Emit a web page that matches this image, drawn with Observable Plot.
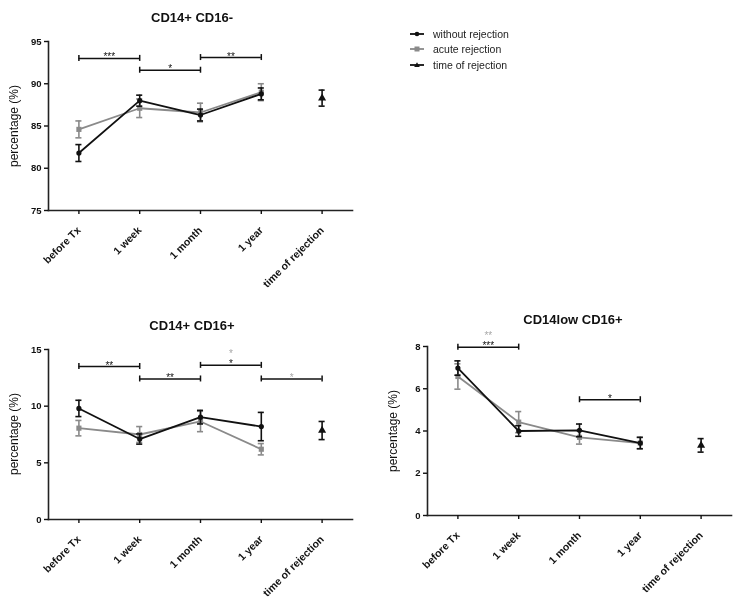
<!DOCTYPE html>
<html><head><meta charset="utf-8">
<script src="https://cdn.jsdelivr.net/npm/d3@7"></script>
<script src="https://cdn.jsdelivr.net/npm/@observablehq/plot@0.6"></script>
<style>
body{margin:0;background:#fff;font-family:"Liberation Sans",Arial,sans-serif;}
#root{position:relative;width:740px;height:598px;overflow:hidden;background:#fff;filter:grayscale(1);}
.title{position:absolute;font-weight:bold;font-size:13px;transform:translate(-50%,-50%);white-space:nowrap;color:#111;}
.ylab{position:absolute;font-size:12px;transform:translate(-50%,-50%) rotate(-90deg);white-space:nowrap;color:#111;}
.legend{position:absolute;left:410px;top:26px;font-size:10.5px;color:#222;}
.legend div{height:15.5px;display:flex;align-items:center;}
.legend svg{margin-right:9px;}
</style></head><body><div id="root"></div>
<script>
// ---- data ----
const categories = ["before Tx", "1 week", "1 month", "1 year", "time of rejection"];
const seriesNames = ["without rejection", "acute rejection", "time of rejection"];

// CD14+ CD16-
const p1Without = [81.8, 88.0, 86.3, 88.8];
const p1WithoutErr = [1.0, 0.65, 0.7, 0.7];
const p1Acute = [84.6, 87.1, 86.6, 89.0];
const p1AcuteErr = [1.0, 1.1, 1.1, 1.0];
const p1Rejection = [88.3];
const p1RejectionErr = [0.95];
const p1Brackets = [[0, 1, 93.0], [1, 2, 91.6], [2, 3, 93.1]];
const p1Stars = [[0, 1, 93.0, "***", 0, "black"], [1, 2, 91.6, "*", 0, "black"], [2, 3, 93.1, "**", 0, "black"]];

// CD14+ CD16+
const p2Without = [9.8, 7.1, 9.03, 8.2];
const p2WithoutErr = [0.72, 0.45, 0.6, 1.25];
const p2Acute = [8.06, 7.5, 8.65, 6.2];
const p2AcuteErr = [0.68, 0.7, 0.9, 0.5];
const p2Rejection = [7.85];
const p2RejectionErr = [0.8];
const p2Brackets = [[0, 1, 13.5], [1, 2, 12.4], [2, 3, 13.6], [3, 4, 12.4]];
const p2Stars = [[0, 1, 13.5, "**", 0, "black"], [1, 2, 12.4, "**", 0, "black"], [2, 3, 13.6, "*", 0, "black"], [2, 3, 13.6, "*", 1, "gray"], [3, 4, 12.4, "*", 0, "gray"]];

// CD14low CD16+
const p3Without = [6.98, 4.0, 4.03, 3.43];
const p3WithoutErr = [0.34, 0.25, 0.3, 0.27];
const p3Acute = [6.58, 4.42, 3.7, 3.43];
const p3AcuteErr = [0.6, 0.5, 0.32, 0.27];
const p3Rejection = [3.32];
const p3RejectionErr = [0.32];
const p3Brackets = [[0, 1, 7.97], [2, 3, 5.48]];
const p3Stars = [[0, 1, 7.97, "***", 0, "black"], [0, 1, 7.97, "**", 1, "gray"], [2, 3, 5.48, "*", 0, "black"]];

const BLACK = "#111";
const GRAY = "#8a8a8a";
const STARGRAY = "#a8a8a8";
const CAP = 0.05;
const FONT = '"Liberation Sans", Arial, sans-serif';

function toRows(vals, errs, offset = 0) {
  return vals.map((v, k) => ({i: k + offset, v, lo: v - errs[k], hi: v + errs[k]}));
}

function seriesMarks(rows, color, symbol, r, withLine) {
  const m = [];
  if (withLine) m.push(Plot.line(rows, {x: "i", y: "v", stroke: color, strokeWidth: 1.8}));
  m.push(Plot.ruleX(rows, {x: "i", y1: "lo", y2: "hi", stroke: color, strokeWidth: 1.6}));
  m.push(Plot.ruleY(rows, {y: "lo", x1: d => d.i - CAP, x2: d => d.i + CAP, stroke: color, strokeWidth: 1.6}));
  m.push(Plot.ruleY(rows, {y: "hi", x1: d => d.i - CAP, x2: d => d.i + CAP, stroke: color, strokeWidth: 1.6}));
  m.push(Plot.dot(rows, {x: "i", y: "v", symbol: () => symbol, r, fill: color, stroke: "none"}));
  return m;
}

function starMarks(st) {
  const m = [];
  for (const level of [0, 1]) {
    for (const tone of ["black", "gray"]) {
      const rows = st.filter(d => d.level === level && d.tone === tone);
      if (!rows.length) continue;
      m.push(Plot.text(rows, {x: "mid", y: "y", text: "label", fill: tone === "gray" ? STARGRAY : BLACK,
        fontSize: 10, lineAnchor: "bottom", dy: level === 0 ? 2 : -8}));
    }
  }
  return m;
}

function panel(cfg) {
  const {left, top, width, height, mt, mb, ml, mr, domain, ticks, title, titleX, titleY, ylabX,
    without, withoutErr, acute, acuteErr, rej, rejErr, brackets, stars} = cfg;
  const pxPerUnit = (height - mt - mb) / (domain[1] - domain[0]);
  const endTick = 3 / pxPerUnit;
  const br = brackets.map(([from, to, y]) => ({from, to, y}));
  const st = stars.map(([from, to, y, label, level, tone]) => ({mid: (from + to) / 2, y, label, level, tone}));
  const svg = Plot.plot({
    width, height, marginTop: mt, marginBottom: mb, marginLeft: ml, marginRight: mr,
    style: {fontFamily: FONT, color: "#111", background: "transparent", overflow: "visible"},
    x: {type: "linear", domain: [-0.5, 4.5]},
    y: {domain},
    marks: [
      Plot.frame({anchor: "left", stroke: "#222", strokeWidth: 1.6}),
      Plot.frame({anchor: "bottom", stroke: "#222", strokeWidth: 1.6}),
      Plot.axisY({ticks, tickSize: 4, tickPadding: 3, fontSize: 9.5, fontWeight: "bold", label: null, strokeWidth: 1.4}),
      Plot.axisX({ticks: [0, 1, 2, 3, 4], tickFormat: i => categories[i], tickRotate: -45, tickSize: 4, tickPadding: 14, fontSize: 10.5, fontWeight: "bold", label: null, strokeWidth: 1.4}),
      Plot.ruleY(br, {y: "y", x1: "from", x2: "to", stroke: BLACK, strokeWidth: 1.5}),
      Plot.ruleX(br, {x: "from", y1: d => d.y - endTick, y2: d => d.y + endTick, stroke: BLACK, strokeWidth: 1.5}),
      Plot.ruleX(br, {x: "to", y1: d => d.y - endTick, y2: d => d.y + endTick, stroke: BLACK, strokeWidth: 1.5}),
      ...starMarks(st),
      ...seriesMarks(toRows(acute, acuteErr), GRAY, "square", 2.9, true),
      ...seriesMarks(toRows(without, withoutErr), BLACK, "circle", 2.6, true),
      ...seriesMarks(toRows(rej, rejErr, 4), BLACK, "triangle", 3, false)
    ]
  });
  svg.style.position = "absolute";
  svg.style.left = left + "px";
  svg.style.top = top + "px";
  const root = document.getElementById("root");
  root.appendChild(svg);
  const t = document.createElement("div");
  t.className = "title"; t.textContent = title;
  t.style.left = titleX + "px"; t.style.top = titleY + "px";
  root.appendChild(t);
  const yl = document.createElement("div");
  yl.className = "ylab"; yl.textContent = "percentage (%)";
  yl.style.left = ylabX + "px"; yl.style.top = (top + mt + (height - mt - mb) / 2) + "px";
  root.appendChild(yl);
}

panel({left: 0, top: 0, width: 370, height: 290, mt: 41, mb: 80, ml: 48, mr: 18,
  domain: [75, 95], ticks: [75, 80, 85, 90, 95], title: "CD14+ CD16-", titleX: 192, titleY: 17, ylabX: 14,
  without: p1Without, withoutErr: p1WithoutErr, acute: p1Acute, acuteErr: p1AcuteErr,
  rej: p1Rejection, rejErr: p1RejectionErr, brackets: p1Brackets, stars: p1Stars});

panel({left: 0, top: 290, width: 370, height: 308, mt: 59, mb: 79, ml: 48, mr: 18,
  domain: [0, 15], ticks: [0, 5, 10, 15], title: "CD14+ CD16+", titleX: 192, titleY: 325, ylabX: 14,
  without: p2Without, withoutErr: p2WithoutErr, acute: p2Acute, acuteErr: p2AcuteErr,
  rej: p2Rejection, rejErr: p2RejectionErr, brackets: p2Brackets, stars: p2Stars});

panel({left: 370, top: 290, width: 370, height: 308, mt: 56, mb: 83, ml: 57, mr: 9,
  domain: [0, 8], ticks: [0, 2, 4, 6, 8], title: "CD14low CD16+", titleX: 573, titleY: 319, ylabX: 393,
  without: p3Without, withoutErr: p3WithoutErr, acute: p3Acute, acuteErr: p3AcuteErr,
  rej: p3Rejection, rejErr: p3RejectionErr, brackets: p3Brackets, stars: p3Stars});

// legend
const legend = document.createElement("div");
legend.className = "legend";
const legendStyles = [[BLACK, "circle"], [GRAY, "square"], [BLACK, "triangle"]];
seriesNames.forEach((name, k) => {
  const [color, sym] = legendStyles[k];
  const row = document.createElement("div");
  let marker;
  if (sym === "circle") marker = `<circle cx="7" cy="5" r="2.3" fill="${color}"/>`;
  else if (sym === "square") marker = `<rect x="4.5" y="2.5" width="5" height="5" fill="${color}"/>`;
  else marker = `<path d="M7,2.2 L9.8,7 L4.2,7 Z" fill="${color}"/>`;
  row.innerHTML = `<svg width="14" height="10"><line x1="0" x2="14" y1="5" y2="5" stroke="${color}" stroke-width="1.8"/>${marker}</svg><span>${name}</span>`;
  legend.appendChild(row);
});
document.getElementById("root").appendChild(legend);
</script>
</body></html>
